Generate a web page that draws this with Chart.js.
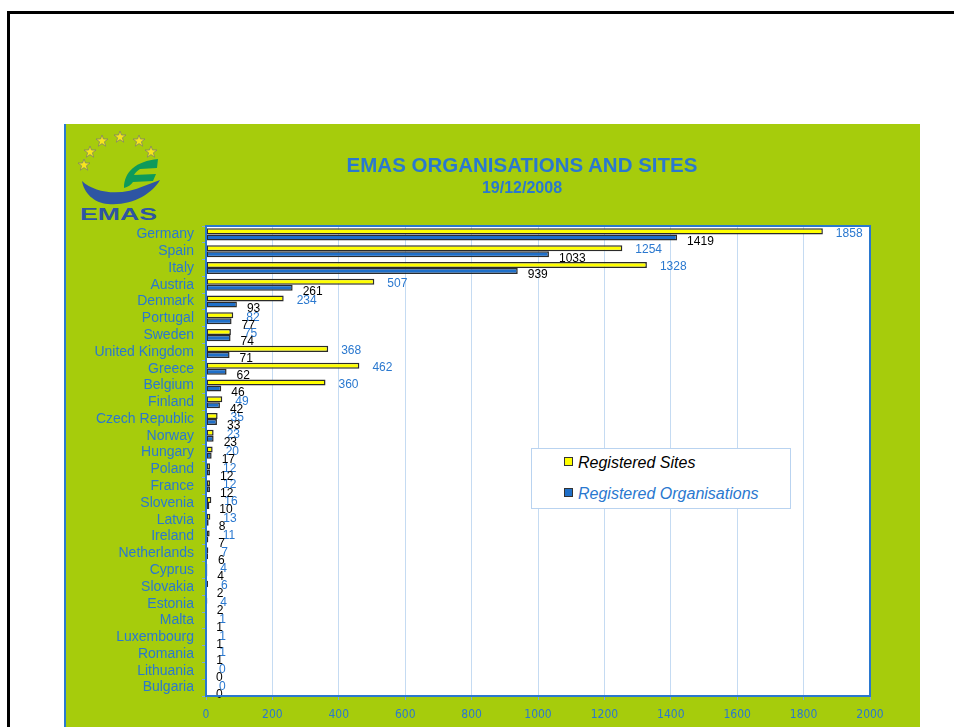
<!DOCTYPE html>
<html>
<head>
<meta charset="utf-8">
<script src="https://cdn.jsdelivr.net/npm/chart.js@4/dist/chart.umd.min.js"></script>
<style>
  html, body { margin: 0; padding: 0; background: #fff; }
  body { width: 954px; height: 727px; position: relative; overflow: hidden; font-family: "Liberation Sans", Arial, sans-serif; }
  .frame-top { position: absolute; left: 7px; top: 11px; width: 947px; height: 3px; background: #000; }
  .frame-left { position: absolute; left: 7px; top: 11px; width: 3px; height: 716px; background: #000; }
  .panel { position: absolute; left: 64px; top: 124px; width: 856px; height: 603px; background: #a6cc0c; border-left: 2px solid #2a7ad0; box-sizing: border-box; }
  #chartBox { position: absolute; left: 64px; top: 124px; width: 856px; height: 603px; }
  .title { position: absolute; left: 64px; width: 916px; top: 153px; text-align: center; color: #2a78cf; font-weight: bold; font-size: 20.5px; }
  .subtitle { position: absolute; left: 64px; width: 916px; top: 179px; text-align: center; color: #2a78cf; font-weight: bold; font-size: 16px; }
  .legend { position: absolute; left: 531px; top: 448px; width: 260px; height: 61px; background: #fff; border: 1px solid #b9d3f0; box-sizing: border-box; }
  .legend div { position: absolute; left: 32px; font-size: 16px; font-style: italic; white-space: nowrap; }
  .legend span { display: inline-block; width: 7px; height: 7px; border: 1px solid #333; margin-right: 5px; vertical-align: 2px; }
  .logo { position: absolute; left: 74px; top: 128px; }
</style>
</head>
<body>
<div class="frame-top"></div>
<div class="frame-left"></div>
<div class="panel"></div>
<svg class="logo" width="92" height="100" viewBox="0 0 92 100">
  <defs>
    <polygon id="star" points="0,-6 1.5,-2 6,-2 2.4,0.8 3.7,5.2 0,2.6 -3.7,5.2 -2.4,0.8 -6,-2 -1.5,-2"/>
  </defs>
  <g fill="#f6e61c" stroke="#7a7a7a" stroke-width="0.7">
    <use href="#star" x="10" y="37"/>
    <use href="#star" x="16" y="24"/>
    <use href="#star" x="28" y="13"/>
    <use href="#star" x="46" y="9"/>
    <use href="#star" x="65" y="13"/>
    <use href="#star" x="77" y="24"/>
  </g>
  <path d="M8,53 C22,66 48,68 70,58 L86,52 C78,66 58,78 34,76 C20,75 10,65 8,53 Z" fill="#2e55a3"/>
  <path d="M50,60 C50,44 62,33 84,31 L83,40 L66,41 C63,43 61,45 60,47 L82,46 L79,53 L59,54 C57,57 54,59 50,60 Z" fill="#0e9a5a"/>
  <text x="6" y="92" textLength="77" lengthAdjust="spacingAndGlyphs" font-family="Liberation Sans, Arial" font-weight="bold" font-size="16" fill="#2e55a3">EMAS</text>
</svg>
<div id="chartBox"><canvas id="emasChart" width="856" height="603"></canvas></div>
<div class="title">EMAS ORGANISATIONS AND SITES</div>
<div class="subtitle">19/12/2008</div>
<div class="legend">
  <div style="top: 5px; color: #000;"><span style="background:#ffff00;"></span>Registered Sites</div>
  <div style="top: 36px; color: #2a78cf;"><span style="background:#1f6fc8;"></span>Registered Organisations</div>
</div>
<script>
const countries = ["Germany", "Spain", "Italy", "Austria", "Denmark", "Portugal", "Sweden", "United Kingdom",
    "Greece", "Belgium", "Finland", "Czech Republic", "Norway", "Hungary", "Poland", "France", "Slovenia",
    "Latvia", "Ireland", "Netherlands", "Cyprus", "Slovakia", "Estonia", "Malta", "Luxembourg", "Romania",
    "Lithuania", "Bulgaria"];
const registeredSites = [1858, 1254, 1328, 507, 234, 82, 75, 368, 462, 360, 49, 35, 23, 20, 12, 12, 16,
    13, 11, 7, 4, 6, 4, 1, 1, 1, 0, 0];
const registeredOrganisations = [1419, 1033, 939, 261, 93, 77, 74, 71, 62, 46, 42, 33, 23, 17, 12, 12, 10,
    8, 7, 6, 4, 2, 2, 1, 1, 1, 0, 0];
const xTicks = [0, 200, 400, 600, 800, 1000, 1200, 1400, 1600, 1800, 2000];

const blue = "#2a78cf";

// value labels next to each bar end
const barLabels = {
    id: "barLabels",
    afterDatasetsDraw(chart) {
        const ctx = chart.ctx;
        ctx.save();
        ctx.font = "12px 'Liberation Sans', Arial, sans-serif";
        ctx.textBaseline = "middle";
        ctx.textAlign = "left";
        chart.data.datasets.forEach((ds, i) => {
            const meta = chart.getDatasetMeta(i);
            meta.data.forEach((bar, j) => {
                if (i === 0) {
                    ctx.fillStyle = blue;
                    ctx.fillText(ds.data[j], bar.x + 13, bar.y + 2);
                } else {
                    ctx.fillStyle = "#000";
                    ctx.fillText(ds.data[j], bar.x + 10, bar.y + 4);
                }
            });
        });
        ctx.restore();
    }
};

const ctx = document.getElementById("emasChart").getContext("2d");
new Chart(ctx, {
    type: "bar",
    data: {
        labels: countries,
        datasets: [
            {
                label: "Registered Sites",
                data: registeredSites,
                backgroundColor: "#ffff00",
                borderColor: "#2b2b2b",
                borderWidth: 1.5,
                borderSkipped: false,
                barPercentage: 1,
                categoryPercentage: 0.72
            },
            {
                label: "Registered Organisations",
                data: registeredOrganisations,
                backgroundColor: "#1f6fc8",
                borderColor: "#2b2b2b",
                borderWidth: 1.5,
                borderSkipped: false,
                barPercentage: 1,
                categoryPercentage: 0.72
            }
        ]
    },
    options: {
        indexAxis: "y",
        responsive: false,
        animation: false,
        layout: { padding: { top: 102, right: 50, left: 0, bottom: 0 } },
        plugins: {
            legend: { display: false },
            tooltip: { enabled: false }
        },
        scales: {
            x: {
                min: 0,
                max: 2000,
                afterBuildTicks: (scale) => { scale.ticks = xTicks.map(v => ({ value: v })); },
                afterFit: (scale) => { scale.height = 31; },
                grid: { color: "#c5dbf2", tickLength: 4, tickColor: "#7fa8d8" },
                border: { color: blue, width: 2 },
                ticks: {
                    color: blue,
                    padding: 8,
                    callback: (v) => String(v),
                    font: { family: "'Liberation Sans Narrow', 'DejaVu Sans Condensed', Arial", size: 12 }
                }
            },
            y: {
                afterFit: (scale) => { scale.width = 142; },
                grid: { drawOnChartArea: false, offset: true, tickLength: 4, tickColor: "#7fa8d8" },
                border: { color: blue, width: 2 },
                ticks: {
                    color: blue,
                    padding: 8,
                    autoSkip: false,
                    font: { family: "'Liberation Sans', Arial", size: 14 }
                }
            }
        }
    },
    plugins: [
        {
            id: "plotBackground",
            beforeDraw(chart) {
                const a = chart.chartArea;
                chart.ctx.save();
                chart.ctx.fillStyle = "#fff";
                chart.ctx.fillRect(a.left, a.top, a.right - a.left, a.bottom - a.top);
                chart.ctx.restore();
            },
            afterDraw(chart) {
                const a = chart.chartArea;
                chart.ctx.save();
                chart.ctx.strokeStyle = blue;
                chart.ctx.lineWidth = 2;
                chart.ctx.strokeRect(a.left, a.top, a.right - a.left, a.bottom - a.top);
                chart.ctx.restore();
            }
        },
        barLabels
    ]
});
</script>
</body>
</html>
